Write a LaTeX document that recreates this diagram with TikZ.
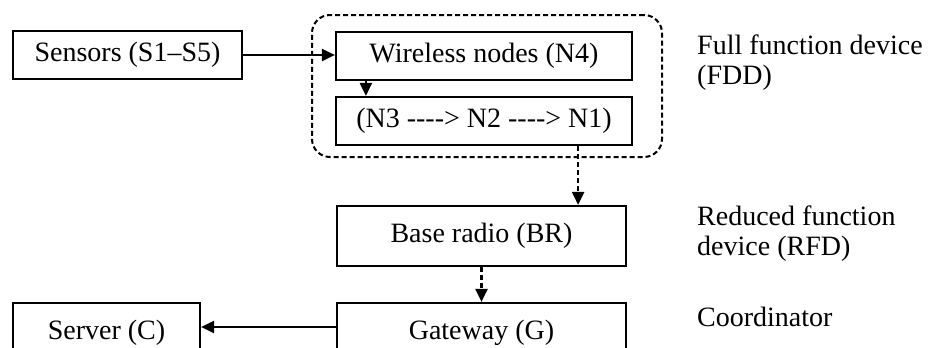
\documentclass[tikz,border=0pt]{standalone}
\usepackage{fontspec}
\setmainfont{Liberation Serif}
\usetikzlibrary{arrows.meta,calc}
\newcommand{\hy}{-\kern0pt}
\begin{document}
\begin{tikzpicture}[x=1pt,y=-1pt,
  every node/.style={font=\fontsize{28}{30}\selectfont},
  unit/.style={draw,line width=2.2pt,inner sep=0pt,align=center},
  note/.style={anchor=west,align=left,inner sep=0pt},
  link/.style={line width=2.2pt,-{Triangle[length=13pt,width=12pt]}},
  dlink/.style={link,dash pattern=on 5pt off 3pt}]
\useasboundingbox (0,0) rectangle (935,348);
\clip (0,0) rectangle (935,348);

% grouping of the wireless nodes
\node[draw,line width=2pt,dash pattern=on 5pt off 3pt,rounded corners=18pt,
      minimum width=350pt,minimum height=142pt,inner sep=0pt] (group) at (487,86) {};

% units
\node[unit,minimum width=229pt,minimum height=48pt] (sensors)  at (127.5,55) {Sensors (S1–S5)};
\node[unit,minimum width=296pt,minimum height=48pt] (wireless) at (484,56)   {Wireless nodes (N4)};
\node[unit,minimum width=296pt,minimum height=48pt] (chain)    at (484,121)  {(N3 \hy\hy\hy\hy> N2 \hy\hy\hy\hy> N1)};
\node[unit,minimum width=289pt,minimum height=60pt] (base)     at (481.5,236) {Base radio (BR)};
\node[unit,minimum width=289pt,minimum height=60pt] (gateway)  at (481.5,333) {Gateway (G)};
\node[unit,minimum width=187pt,minimum height=60pt] (server)   at (106.5,333) {Server (C)};

% device classes
\node[note] (fdd)   at (697,63)  {Full function device\\(FDD)};
\node[note] (rfd)   at (697,234) {Reduced function\\device (RFD)};
\node[note] (coord) at (697,317) {Coordinator};

% connectors
\draw[link] (sensors.east) -- (sensors.east -| wireless.west);
\draw[dlink] ([xshift=31pt]wireless.south west) -- ([xshift=31pt]chain.north west);
\draw[dlink] ([xshift=-55pt]chain.south east) -- ([xshift=-55pt]chain.south east |- base.north);
\draw[dlink] (base.south) -- (gateway.north);
\draw[link] ([yshift=6pt]gateway.west) -- ([yshift=6pt]gateway.west -| server.east);
\end{tikzpicture}
\end{document}
